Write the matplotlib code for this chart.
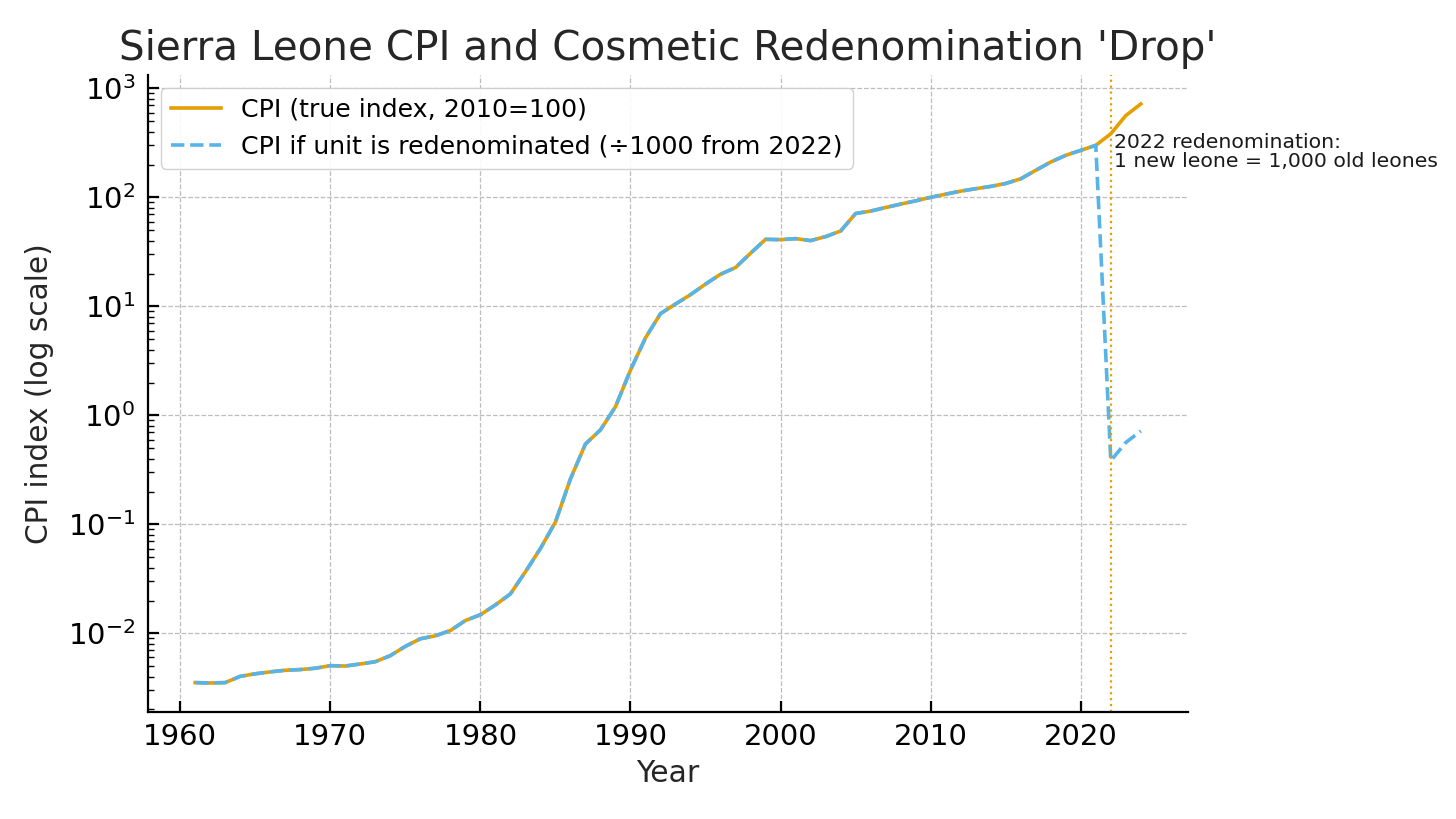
import numpy as np
from matplotlib import pyplot as plt

years = list(range(1961, 2025))
cpi = [
    0.00353, 0.00350, 0.00353, 0.00403, 0.00425, 0.00443, 0.00458, 0.00465,
    0.00478, 0.00505, 0.00501, 0.00523, 0.00549, 0.00624, 0.00759, 0.00891,
    0.00949, 0.0106, 0.0131, 0.0148, 0.0182, 0.0230, 0.0367, 0.0600,
    0.105, 0.261, 0.546, 0.735, 1.20, 2.60, 5.14, 8.58,
    10.5, 12.8, 16.0, 19.7, 22.7, 30.7, 41.2, 40.9,
    41.8, 40.1, 43.6, 49.1, 71.1, 74.8, 80.7, 86.7,
    92.9, 100.0, 107, 114, 120, 126, 134, 148,
    177, 211, 243, 270, 300, 383, 563, 719,
]
redenom_year = 2022
redenom_factor = 1000

cpi_redenom = [v / redenom_factor if y >= redenom_year else v
               for y, v in zip(years, cpi)]

ORANGE = '#E69F00'
BLUE = '#56B4E9'

fig = plt.figure(figsize=(14.56, 8.19), dpi=100)
ax = fig.add_axes([0.1016, 0.1307, 0.7144, 0.7777])

ax.plot(years, cpi, color=ORANGE, lw=2.6, label='CPI (true index, 2010=100)')
ax.plot(years, cpi_redenom, color=BLUE, lw=2.6, ls='--',
        label='CPI if unit is redenominated (÷1000 from 2022)')
ax.axvline(redenom_year, color=ORANGE, ls=':', lw=1.6)

i22 = years.index(redenom_year)
ax.text(redenom_year + 0.2, cpi[i22] * 1.02,
        '2022 redenomination:\n1 new leone = 1,000 old leones',
        fontsize=14.7, ha='left', va='top', color='#1a1a1a', linespacing=1.0)

ax.set_yscale('log')
ax.set_title("Sierra Leone CPI and Cosmetic Redenomination 'Drop'",
             fontsize=29.2, color='#262626', pad=11)
ax.set_xlabel('Year', fontsize=21.5, color='#262626', labelpad=6)
ax.set_ylabel('CPI index (log scale)', fontsize=21.3, color='#262626', labelpad=10)

ax.grid(True, which='major', ls='--', color='#bdbdbd', lw=0.9)
for side in ['top', 'right']:
    ax.spines[side].set_visible(False)
for side in ['left', 'bottom']:
    ax.spines[side].set_linewidth(1.6)

ax.tick_params(which='major', direction='in', length=8, width=1.6, labelsize=21)
ax.tick_params(which='minor', direction='in', length=4, width=1.0)
ax.tick_params(axis='x', pad=8)
ax.tick_params(axis='y', pad=9)

ax.legend(loc='upper left', fontsize=18.2, frameon=True, framealpha=0.9,
          edgecolor='#cccccc', handlelength=2.0, borderaxespad=0.5)

fig.savefig('out.png', dpi=100)
